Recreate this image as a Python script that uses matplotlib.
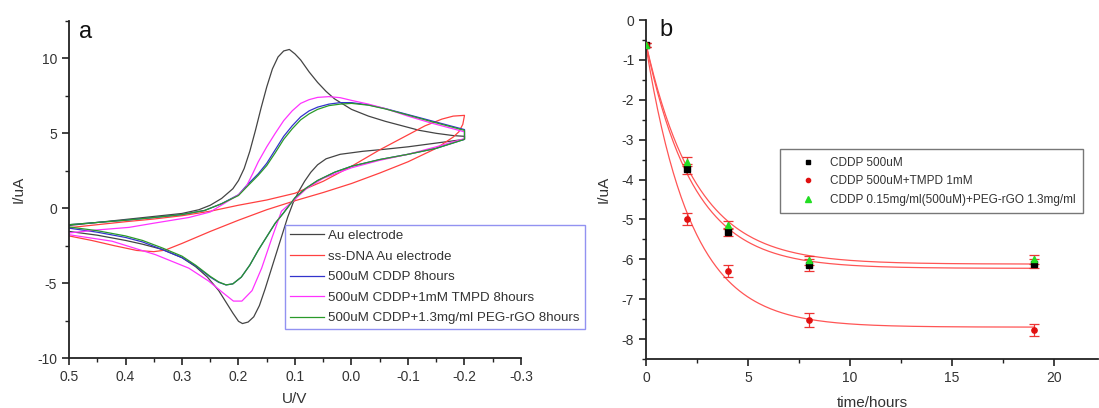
import numpy as np
import matplotlib
matplotlib.use("Agg")
import matplotlib.pyplot as plt
from matplotlib.ticker import MultipleLocator

plt.rcParams['font.family'] = ['Liberation Sans', 'DejaVu Sans']
plt.rcParams['axes.unicode_minus'] = False

# ---- panel a: cyclic voltammograms (potential / V, current / uA) ----
au_e = [0.5, 0.45, 0.4, 0.35, 0.3, 0.27, 0.25, 0.23, 0.21, 0.2, 0.19, 0.18, 0.17, 0.16, 0.15, 0.14,
        0.13, 0.12, 0.11, 0.1, 0.09, 0.075, 0.06, 0.045, 0.03, 0.015, 0.0, -0.03, -0.06, -0.09,
        -0.12, -0.15, -0.18, -0.2,
        -0.2, -0.15, -0.1, -0.057, -0.02, 0.02, 0.045, 0.06, 0.072, 0.083, 0.093, 0.103, 0.113,
        0.123, 0.133, 0.143, 0.153, 0.163, 0.173, 0.183, 0.193, 0.2, 0.21, 0.22, 0.235, 0.255,
        0.276, 0.3, 0.335, 0.37, 0.4, 0.45, 0.5]
au_i = [-1.15, -0.95, -0.75, -0.55, -0.35, -0.1, 0.2, 0.65, 1.3, 1.85, 2.65, 3.8, 5.2, 6.7, 8.1,
        9.3, 10.1, 10.5, 10.6, 10.3, 9.9, 9.1, 8.4, 7.8, 7.3, 6.95, 6.6, 6.15, 5.8, 5.5,
        5.2, 5.0, 4.85, 4.8,
        4.6, 4.35, 4.1, 3.93, 3.8, 3.6, 3.3, 2.9, 2.4, 1.8, 1.15, 0.4, -0.6,
        -1.8, -3.0, -4.2, -5.4, -6.5, -7.25, -7.6, -7.7, -7.55, -7.0, -6.4, -5.5, -4.6,
        -3.9, -3.3, -2.75, -2.4, -2.15, -1.8, -1.55]

dna_e = [0.5, 0.45, 0.4, 0.35, 0.3, 0.25, 0.2, 0.15, 0.1, 0.05, 0.0, -0.05, -0.1, -0.13, -0.16,
         -0.18, -0.2,
         -0.197, -0.19, -0.18, -0.15, -0.1, -0.05, 0.0, 0.05, 0.1, 0.15, 0.2, 0.25, 0.3, 0.33,
         0.35, 0.38, 0.42, 0.46, 0.5]
dna_i = [-1.3, -1.1, -0.9, -0.72, -0.5, -0.2, 0.2, 0.55, 1.0, 1.8, 2.8, 3.9, 4.9, 5.5, 5.95,
         6.15, 6.2,
         5.6, 5.1, 4.75, 4.0, 3.1, 2.35, 1.65, 1.05, 0.5, -0.1, -0.8, -1.55, -2.35, -2.8,
         -2.9, -2.82, -2.5, -2.15, -1.85]

cddp_e = [0.5, 0.45, 0.4, 0.35, 0.3, 0.26, 0.23, 0.2, 0.186, 0.165, 0.15, 0.135, 0.12, 0.105, 0.09,
          0.075, 0.06, 0.04, 0.02, 0.0, -0.03, -0.06, -0.1, -0.14, -0.18, -0.2,
          -0.2, -0.15, -0.1, -0.05, 0.0, 0.03, 0.06, 0.08, 0.1, 0.12, 0.135, 0.15, 0.165, 0.18,
          0.195, 0.21, 0.222, 0.235, 0.25, 0.276, 0.3, 0.335, 0.37, 0.4, 0.45, 0.5]
cddp_i = [-1.1, -0.95, -0.8, -0.62, -0.42, -0.15, 0.3, 0.9, 1.5, 2.3, 3.0, 3.9, 4.8, 5.5, 6.1,
          6.5, 6.75, 6.95, 7.05, 7.05, 6.9, 6.65, 6.25, 5.85, 5.45, 5.25,
          4.6, 4.0, 3.6, 3.25, 2.8, 2.4, 1.85, 1.35, 0.7, -0.3, -1.0, -1.9, -2.8, -3.8,
          -4.6, -5.05, -5.12, -4.95, -4.6, -3.85, -3.3, -2.76, -2.25, -1.95, -1.6, -1.33]

tmpd_e = [0.5, 0.45, 0.394, 0.35, 0.288, 0.25, 0.2, 0.187, 0.175, 0.165, 0.15, 0.135, 0.12, 0.105,
          0.09, 0.075, 0.06, 0.04, 0.02, 0.0, -0.03, -0.06, -0.1, -0.14, -0.18, -0.2,
          -0.2, -0.15, -0.1, -0.05, 0.0, 0.05, 0.08, 0.1, 0.124, 0.141, 0.159, 0.176, 0.194,
          0.209, 0.229, 0.253, 0.288, 0.347, 0.424, 0.5]
tmpd_i = [-1.65, -1.45, -1.28, -1.0, -0.62, -0.25, 0.9, 1.4, 2.3, 3.1, 4.1, 5.0, 5.85, 6.5,
          7.0, 7.25, 7.4, 7.45, 7.38, 7.2, 6.95, 6.65, 6.15, 5.7, 5.3, 5.1,
          4.65, 4.1, 3.6, 3.2, 2.7, 2.0, 1.3, 0.6, -0.2, -2.0, -4.0, -5.5, -6.2,
          -6.2, -5.6, -4.86, -4.0, -3.1, -2.2, -1.77]

rgo_e = [0.5, 0.45, 0.4, 0.35, 0.3, 0.26, 0.23, 0.2, 0.186, 0.165, 0.15, 0.135, 0.12, 0.105, 0.09,
         0.075, 0.06, 0.04, 0.02, 0.0, -0.03, -0.06, -0.1, -0.14, -0.18, -0.2,
         -0.2, -0.15, -0.1, -0.05, 0.0, 0.03, 0.06, 0.08, 0.1, 0.12, 0.135, 0.15, 0.165, 0.18,
         0.195, 0.21, 0.222, 0.235, 0.25, 0.276, 0.3, 0.335, 0.37, 0.4, 0.45, 0.5]
rgo_i = [-1.1, -0.95, -0.8, -0.62, -0.42, -0.15, 0.3, 0.85, 1.4, 2.2, 2.85, 3.7, 4.6, 5.3, 5.9,
         6.3, 6.6, 6.85, 6.95, 7.0, 6.88, 6.63, 6.22, 5.8, 5.4, 5.2,
         4.6, 4.0, 3.6, 3.25, 2.8, 2.4, 1.85, 1.35, 0.7, -0.3, -1.0, -1.9, -2.8, -3.8,
         -4.6, -5.05, -5.12, -4.92, -4.55, -3.8, -3.2, -2.65, -2.15, -1.85, -1.5, -1.25]

cv_labels = ['Au electrode', 'ss-DNA Au electrode', '500uM CDDP 8hours',
             '500uM CDDP+1mM TMPD 8hours', '500uM CDDP+1.3mg/ml PEG-rGO 8hours']
cv_colors = ['#444444', '#ff4040', '#3333cc', '#ff33ff', '#2a9a2a']

# ---- panel b: current vs time ----
t_hours = [0, 2, 4, 8, 19]
i_cddp = [-0.63, -3.73, -5.32, -6.14, -6.11]
i_tmpd = [-0.63, -4.99, -6.30, -7.52, -7.77]
i_rgo = [-0.63, -3.55, -5.13, -6.03, -6.00]
err_cddp = [0.05, 0.12, 0.10, 0.15, 0.12]
err_tmpd = [0.05, 0.15, 0.15, 0.18, 0.15]
err_rgo = [0.05, 0.12, 0.10, 0.12, 0.12]
b_labels = ['CDDP 500uM', 'CDDP 500uM+TMPD 1mM', 'CDDP 0.15mg/ml(500uM)+PEG-rGO 1.3mg/ml']


def exp_fit(t, y):
    # y = y0 + A*exp(-t/tau), tau by grid search, y0 and A by least squares
    t = np.asarray(t, float)
    y = np.asarray(y, float)
    best = None
    for tau in np.linspace(0.5, 10, 400):
        M = np.column_stack([np.ones_like(t), np.exp(-t / tau)])
        coef = np.linalg.lstsq(M, y, rcond=None)[0]
        r = np.sum((M @ coef - y) ** 2)
        if best is None or r < best[0]:
            best = (r, tau, coef)
    _, tau, coef = best
    return lambda x: coef[0] + coef[1] * np.exp(-x / tau)


W, H = 1099, 408
fig = plt.figure(figsize=(W / 100, H / 100), dpi=100)
axa = fig.add_axes([69 / W, 1 - 358 / H, 452 / W, 337 / H])
axb = fig.add_axes([646 / W, 1 - 359 / H, 452 / W, 339 / H])

for e, i, lab, c in zip([au_e, dna_e, cddp_e, tmpd_e, rgo_e], [au_i, dna_i, cddp_i, tmpd_i, rgo_i],
                        cv_labels, cv_colors):
    axa.plot(e, i, color=c, lw=0.9, label=lab)

axa.set_xlim(0.5, -0.3)
axa.set_ylim(-10, 12.5)
axa.xaxis.set_minor_locator(MultipleLocator(0.05))
axa.yaxis.set_major_locator(MultipleLocator(5))
axa.yaxis.set_minor_locator(MultipleLocator(2.5))
axa.set_xticks(np.arange(0.5, -0.31, -0.1))
axa.set_xticklabels(['0.5', '0.4', '0.3', '0.2', '0.1', '0.0', '-0.1', '-0.2', '-0.3'])
axa.set_xlabel('U/V', fontsize=11, color='#333333', labelpad=6)
axa.set_ylabel('I/uA', fontsize=11, color='#333333', labelpad=8)
leg = axa.legend(loc='upper left', bbox_to_anchor=(285 / W, 1 - 225 / H), bbox_transform=fig.transFigure,
                 borderaxespad=0, fontsize=9.6, frameon=True, fancybox=False, handlelength=2.6,
                 handletextpad=0.3, labelspacing=0.62, borderpad=0.35)
leg.get_frame().set_edgecolor('#7777ee')
leg.get_frame().set_linewidth(1.0)
for txt in leg.get_texts():
    txt.set_color('#333333')

# panel b
tt = np.linspace(0, 19, 200)
for ys in [i_cddp, i_tmpd, i_rgo]:
    axb.plot(tt, exp_fit(t_hours, ys)(tt), color='#ff5555', lw=0.9, zorder=2)
for ys, es in [(i_cddp, err_cddp), (i_tmpd, err_tmpd), (i_rgo, err_rgo)]:
    axb.errorbar(t_hours, ys, yerr=es, fmt='none', ecolor='#ee3333', elinewidth=0.9, capsize=3.5,
                 capthick=0.9, zorder=3)
axb.plot(t_hours, i_cddp, 's', color='black', ms=4.2, ls='none', label=b_labels[0], zorder=4)
axb.plot(t_hours, i_tmpd, 'o', color='#e01010', ms=3.8, ls='none', label=b_labels[1], zorder=4)
axb.plot(t_hours, i_rgo, '^', color='#22dd22', ms=4.8, ls='none', label=b_labels[2], zorder=4)

axb.set_xlim(0, 22.15)
axb.set_ylim(-8.5, 0)
axb.xaxis.set_major_locator(MultipleLocator(5))
axb.xaxis.set_minor_locator(MultipleLocator(2.5))
axb.yaxis.set_major_locator(MultipleLocator(1))
axb.yaxis.set_minor_locator(MultipleLocator(0.5))
axb.set_xlabel('time/hours', fontsize=11, color='#333333', labelpad=8)
axb.set_ylabel('I/uA', fontsize=11, color='#333333', labelpad=8)
legb = axb.legend(loc='upper left', bbox_to_anchor=(780 / W, 1 - 149 / H), bbox_transform=fig.transFigure,
                  borderaxespad=0, fontsize=8.5, frameon=True, fancybox=False, handlelength=3.5,
                  handletextpad=0.05, labelspacing=0.55, borderpad=0.65, markerscale=0.8)
legb.get_frame().set_edgecolor('#555555')
legb.get_frame().set_linewidth(1.0)
for txt in legb.get_texts():
    txt.set_color('#333333')

for ax in (axa, axb):
    for s in ('top', 'right'):
        ax.spines[s].set_visible(False)
    for s in ('left', 'bottom'):
        ax.spines[s].set_linewidth(1.3)
        ax.spines[s].set_color('#222222')
    ax.tick_params(which='major', direction='out', length=5, width=1.2, labelsize=10,
                   labelcolor='#333333', color='#222222')
    ax.tick_params(which='minor', direction='out', length=3, width=1.0, color='#222222')

fig.text(86 / W, 1 - 32 / H, 'a', fontsize=17, ha='center', va='center', color='#111111')
fig.text(666 / W, 1 - 30 / H, 'b', fontsize=17, ha='center', va='center', color='#111111')

fig.savefig('out.png', dpi=100)
